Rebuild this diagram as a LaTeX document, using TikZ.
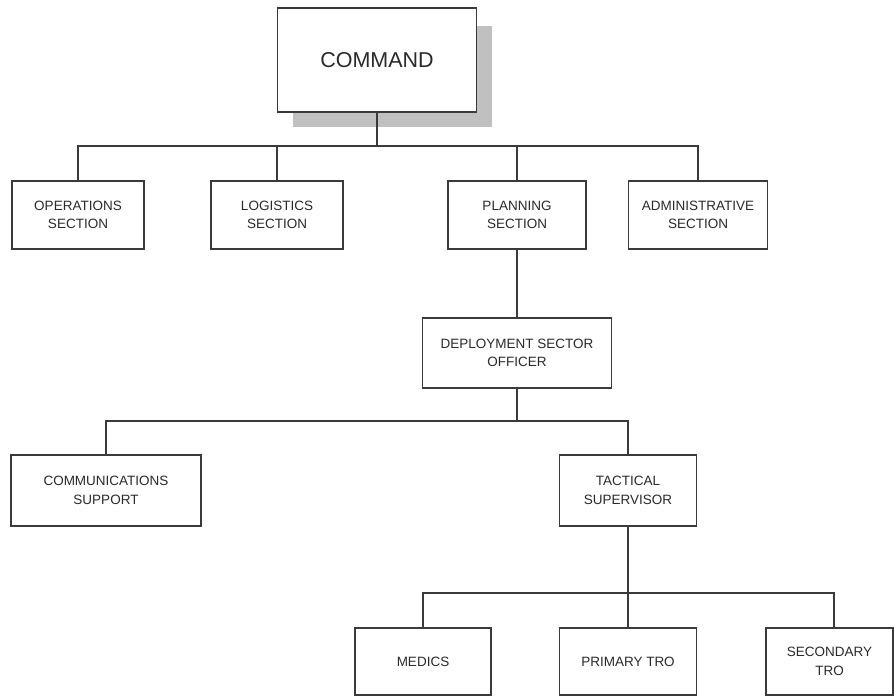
\documentclass[tikz,border=0pt]{standalone}
\usepackage{fontspec}
\setmainfont{Liberation Sans}
\definecolor{ln}{HTML}{3A3A3A}
\definecolor{tx}{HTML}{2A2A2A}
\definecolor{shd}{HTML}{C0C0C0}
\begin{document}
\begin{tikzpicture}[x=1pt,y=1pt,
  box/.style={draw=ln,line width=1.6pt,fill=white,align=center,text=tx,
    font=\fontsize{13.5}{18.5}\selectfont,inner sep=0pt,minimum height=68pt},
  con/.style={draw=ln,line width=1.5pt}]
\useasboundingbox (0,0) rectangle (894,-696);
% shadow of command
\fill[shd] (293,-26) rectangle (492,-127);
\node[box,minimum width=199pt,minimum height=104pt,font=\fontsize{21.5}{24}\selectfont] (cmd) at (377,-60) {COMMAND};
\node[box,minimum width=132pt] (ops) at (78,-215) {OPERATIONS\\SECTION};
\node[box,minimum width=132pt] (log) at (277,-215) {LOGISTICS\\SECTION};
\node[box,minimum width=138pt] (plan) at (517,-215) {PLANNING\\SECTION};
\node[box,minimum width=139pt] (adm) at (698,-215) {ADMINISTRATIVE\\SECTION};
\node[box,minimum width=189pt,minimum height=70pt] (dso) at (517,-353) {DEPLOYMENT SECTOR\\OFFICER};
\node[box,minimum width=190pt,minimum height=71pt] (comm) at (106,-490.5) {COMMUNICATIONS\\SUPPORT};
\node[box,minimum width=137pt,minimum height=71pt] (tac) at (628,-490.5) {TACTICAL\\SUPERVISOR};
\node[box,minimum width=136pt,minimum height=67pt] (med) at (423,-661.5) {MEDICS};
\node[box,minimum width=137pt,minimum height=67pt] (pri) at (628,-661.5) {PRIMARY TRO};
\node[box,minimum width=127pt,minimum height=67pt] (sec) at (829.5,-661.5) {SECONDARY\\TRO};
\coordinate (b1) at (0,-146);
\coordinate (b2) at (0,-421);
\coordinate (b3) at (0,-593);
% level 1
\draw[con] (cmd.south) -- (cmd.south |- b1);
\draw[con] (ops.north) -- (ops.north |- b1) -- (adm.north |- b1) -- (adm.north);
\draw[con] (log.north) -- (log.north |- b1);
\draw[con] (plan.north) -- (plan.north |- b1);
\draw[con] (plan.south) -- (dso.north);
% level 2
\draw[con] (dso.south) -- (dso.south |- b2);
\draw[con] (comm.north) -- (comm.north |- b2) -- (tac.north |- b2) -- (tac.north);
% level 3
\draw[con] (tac.south) -- (pri.north);
\draw[con] (med.north) -- (med.north |- b3) -- ([xshift=4.5pt]sec.north |- b3) -- ([xshift=4.5pt]sec.north);
\end{tikzpicture}
\end{document}
